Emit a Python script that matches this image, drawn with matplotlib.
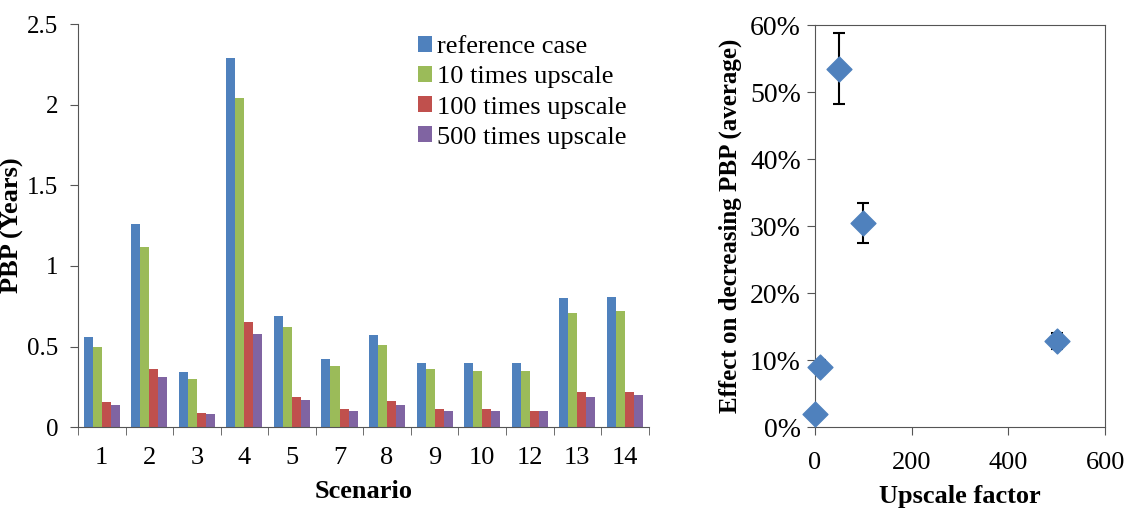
import numpy as np
import matplotlib
matplotlib.use('Agg')
import matplotlib.pyplot as plt

# Payback period per scenario (years)
scenarios = ['1', '2', '3', '4', '5', '7', '8', '9', '10', '12', '13', '14']
reference = [0.56, 1.26, 0.34, 2.29, 0.69, 0.42, 0.57, 0.40, 0.40, 0.40, 0.80, 0.81]
up10 = [0.50, 1.12, 0.30, 2.04, 0.62, 0.38, 0.51, 0.36, 0.35, 0.35, 0.71, 0.72]
up100 = [0.155, 0.36, 0.09, 0.65, 0.19, 0.11, 0.16, 0.11, 0.11, 0.10, 0.22, 0.22]
up500 = [0.14, 0.31, 0.08, 0.58, 0.17, 0.10, 0.14, 0.10, 0.10, 0.10, 0.19, 0.20]
series_names = ['reference case', '10 times upscale', '100 times upscale',
                '500 times upscale']
colors = ['#4f81bd', '#9bbb59', '#c0504d', '#8064a2']

# Average effect on decreasing PBP
factor = [1, 10, 50, 100, 500]
effect = [0.02, 0.09, 0.535, 0.305, 0.128]
err = [0.0, 0.01, 0.053, 0.03, 0.012]
yticks2 = [0, 0.1, 0.2, 0.3, 0.4, 0.5, 0.6]

plt.rcParams['font.family'] = ['Liberation Serif', 'DejaVu Serif']

fig = plt.figure(figsize=(11.3, 5.11), dpi=100)

# Left: grouped bars
ax = fig.add_axes([0.069, 0.164, 0.505, 0.789])
x = np.arange(len(scenarios))
w = 0.19
for i, vals in enumerate([reference, up10, up100, up500]):
    ax.bar(x + (i - 1.5) * w, vals, width=w, color=colors[i],
           label=series_names[i])
ax.set_xlim(-0.5, len(scenarios) - 0.5)
ax.set_ylim(0, 2.5)
ax.set_yticks([0, 0.5, 1, 1.5, 2, 2.5])
ax.set_yticklabels(['0', '0.5', '1', '1.5', '2', '2.5'])
ax.set_xticks(x)
ax.set_xticklabels(scenarios)
ax.set_xticks(np.arange(-0.5, len(scenarios)), minor=True)
ax.tick_params(axis='x', which='major', length=0, labelsize=19, pad=14)
ax.tick_params(axis='x', which='minor', length=6, color='#555555')
ax.tick_params(axis='y', labelsize=18, length=6, color='#555555', pad=8)
for s in ['top', 'right']:
    ax.spines[s].set_visible(False)
for s in ['left', 'bottom']:
    ax.spines[s].set_color('#555555')
ax.set_xlabel('Scenario', fontsize=19, fontweight='bold', labelpad=8)
ax.set_ylabel('PBP (Years)', fontsize=19, fontweight='bold', labelpad=2)
ax.legend(loc='upper right', bbox_to_anchor=(0.99, 1.01), frameon=False,
          fontsize=19, handlelength=0.55, handleheight=0.55, handletextpad=0.2,
          labelspacing=0.3, borderaxespad=0.2)

# Right: scatter with error bars
ax2 = fig.add_axes([0.721, 0.164, 0.257, 0.787])
ax2.errorbar(factor, effect, yerr=err, fmt='none', ecolor='black',
             elinewidth=1.5, capsize=4, capthick=1.5, zorder=2)
ax2.scatter(factor, effect, marker='D', s=160, color='#4f81bd', zorder=3,
            clip_on=False)
ax2.set_xlim(0, 600)
ax2.set_ylim(0, 0.6)
ax2.set_xticks([0, 200, 400, 600])
ax2.set_yticks(yticks2)
ax2.set_yticklabels(['{:d}%'.format(int(round(v * 100))) for v in yticks2])
ax2.tick_params(axis='x', labelsize=19, length=6, color='#555555', pad=12)
ax2.tick_params(axis='y', labelsize=20, length=6, color='#555555', pad=4)
for s in ax2.spines.values():
    s.set_color('#555555')
ax2.set_xlabel('Upscale factor', fontsize=19, fontweight='bold', labelpad=8)
ax2.set_ylabel('Effect on decreasing PBP (average)', fontsize=18,
               fontweight='bold', labelpad=6)

fig.savefig('out.png', dpi=100)
